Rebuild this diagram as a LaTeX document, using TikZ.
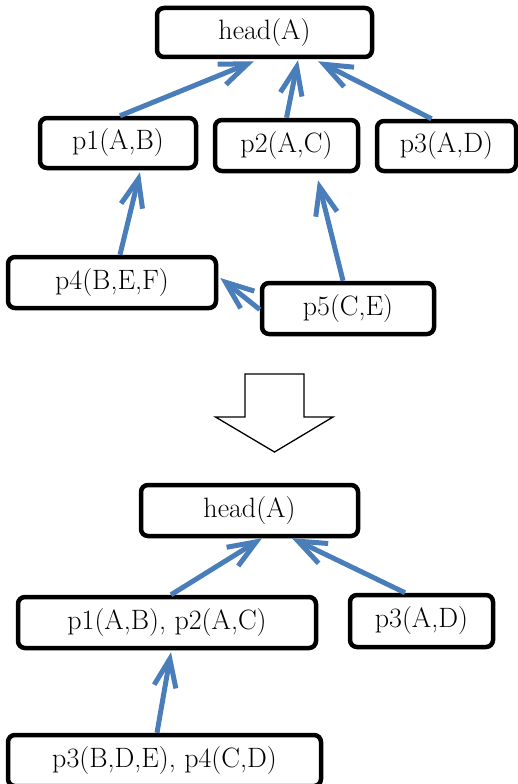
\documentclass[tikz,border=0pt]{standalone}
\usepackage{fontspec}
\setmainfont{Latin Modern Roman}
\usetikzlibrary{arrows.meta}
\definecolor{arrblue}{RGB}{74,126,187}
\begin{document}
\begin{tikzpicture}[x=1pt,y=-1pt,
  box/.style={draw=black,line width=4.5pt,rounded corners=7pt,fill=white,
    inner sep=0pt,font=\fontsize{28}{32}\selectfont},
  arr/.style={draw=arrblue,line width=5pt,
    -{Straight Barb[length=28pt,width=22pt]}},
  blockarrow/.style={draw=black,line width=1.3pt,fill=white,line join=miter}]
\useasboundingbox (0,0) rectangle (517,784);
% top tree
\node[box,minimum width=215pt,minimum height=49pt] (head) at (264.5,32.5) {head(A)};
\node[box,minimum width=156pt,minimum height=50pt] (p1) at (118,143) {p1(A,B)};
\node[box,minimum width=143pt,minimum height=51pt] (p2) at (286.5,145.5) {p2(A,C)};
\node[box,minimum width=139pt,minimum height=50pt] (p3) at (446.5,146) {p3(A,D)};
\node[box,minimum width=208pt,minimum height=51pt] (p4) at (112,282.5) {p4(B,E,F)};
\node[box,minimum width=172pt,minimum height=51pt] (p5) at (348,308.5) {p5(C,E)};
\draw[arr] ([xshift=2pt]p1.north) -- ([xshift=-10.5pt,yshift=-2pt]head.south);
\draw[arr] (p2.north) -- ([xshift=33.5pt,yshift=-1pt]head.south);
\draw[arr] ([xshift=-15pt]p3.north) -- ([xshift=53.5pt,yshift=-2pt]head.south);
\draw[arr] ([xshift=8pt]p4.north) -- ([xshift=22pt,yshift=-2pt]p1.south);
\draw[arr] ([xshift=-5pt]p5.north) -- ([xshift=31.5pt,yshift=-7pt]p2.south);
\draw[arr] ([yshift=-1pt]p5.west) -- ([xshift=2pt,yshift=4.5pt]p4.east);
% block arrow
\coordinate (ba) at (274.5,374);
\draw[blockarrow] (ba) ++(-29.5,0) -- ++(59,0) -- ++(0,43) -- ++(29,0)
  -- (274.5,452) -- (215.5,417) -- (245,417) -- cycle;
% bottom tree
\node[box,minimum width=217pt,minimum height=51pt] (hb) at (249.5,510.5) {head(A)};
\node[box,minimum width=298pt,minimum height=51pt] (q12) at (167,622.5) {p1(A,B), p2(A,C)};
\node[box,minimum width=143pt,minimum height=52pt] (q3) at (421.5,621) {p3(A,D)};
\node[box,minimum width=313pt,minimum height=51pt] (q34) at (164.5,760.5) {p3(B,D,E), p4(C,D)};
\draw[arr] ([xshift=4pt]q12.north) -- ([xshift=12.5pt]hb.south);
\draw[arr] ([xshift=-16.5pt]q3.north) -- ([xshift=42.5pt]hb.south);
\draw[arr] ([xshift=-7.5pt]q34.north) -- ([xshift=4pt,yshift=-2pt]q12.south);
\end{tikzpicture}
\end{document}
